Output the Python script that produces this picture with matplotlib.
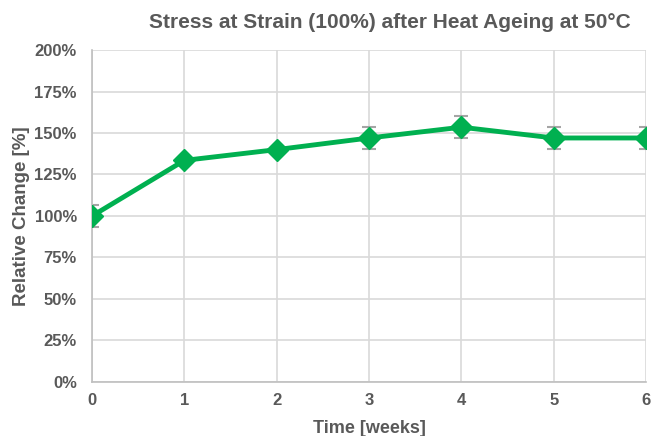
"""Relative change of stress at 100% strain after heat ageing at 50 °C."""
import matplotlib
matplotlib.use("Agg")
import matplotlib.pyplot as plt
from matplotlib.ticker import PercentFormatter

weeks = [0, 1, 2, 3, 4, 5, 6]
relative_change = [100, 133.5, 140, 147, 153.5, 147, 147]
error = [6.5, 0, 0, 6.5, 6.5, 6.5, 6.5]

GREEN = "#00B050"
TEXT = "#595959"
GRID = "#D9D9D9"


def main() -> None:
    plt.rcParams["font.family"] = ["Liberation Sans", "DejaVu Sans"]
    fig = plt.figure(figsize=(6.64, 4.36), dpi=100)
    ax = fig.add_axes([0.1386, 0.1239, 0.8344, 0.7614])

    ax.errorbar(weeks, relative_change, yerr=error, fmt="none",
                ecolor="#A5A5A5", elinewidth=1.5, capsize=5, capthick=1.5, zorder=2)
    ax.plot(weeks, relative_change, color=GREEN, linewidth=3.5,
            marker="D", markersize=11, zorder=3)

    ax.set_xlim(0, 6)
    ax.set_ylim(0, 200)
    ax.set_xticks(weeks)
    ax.set_yticks(range(0, 201, 25))
    ax.yaxis.set_major_formatter(PercentFormatter(decimals=0))
    ax.grid(color=GRID, linewidth=1.2)
    ax.set_axisbelow(True)

    for side in ("top", "right"):
        ax.spines[side].set_visible(False)
    for side in ("left", "bottom"):
        ax.spines[side].set_color("#BFBFBF")
        ax.spines[side].set_linewidth(1.2)
    ax.tick_params(axis="y", length=0, pad=11, labelsize=12, labelcolor=TEXT)
    ax.tick_params(axis="x", length=0, pad=8, labelsize=12, labelcolor=TEXT)
    for lbl in ax.get_xticklabels() + ax.get_yticklabels():
        lbl.set_fontweight("bold")

    fig.text(369 / 664, 1 - 428 / 436, "Time [weeks]", ha="center", va="center",
             fontsize=13, fontweight="bold", color=TEXT)
    fig.text(22 / 664, 1 - 216 / 436, "Relative Change [%]", ha="center", va="center",
             rotation=90, fontsize=13.5, fontweight="bold", color=TEXT)
    fig.text(390 / 664, 1 - 22 / 436, "Stress at Strain (100%) after Heat Ageing at 50°C",
             ha="center", va="center", fontsize=15, fontweight="bold", color=TEXT)

    fig.savefig("out.png", dpi=100)


if __name__ == "__main__":
    main()
